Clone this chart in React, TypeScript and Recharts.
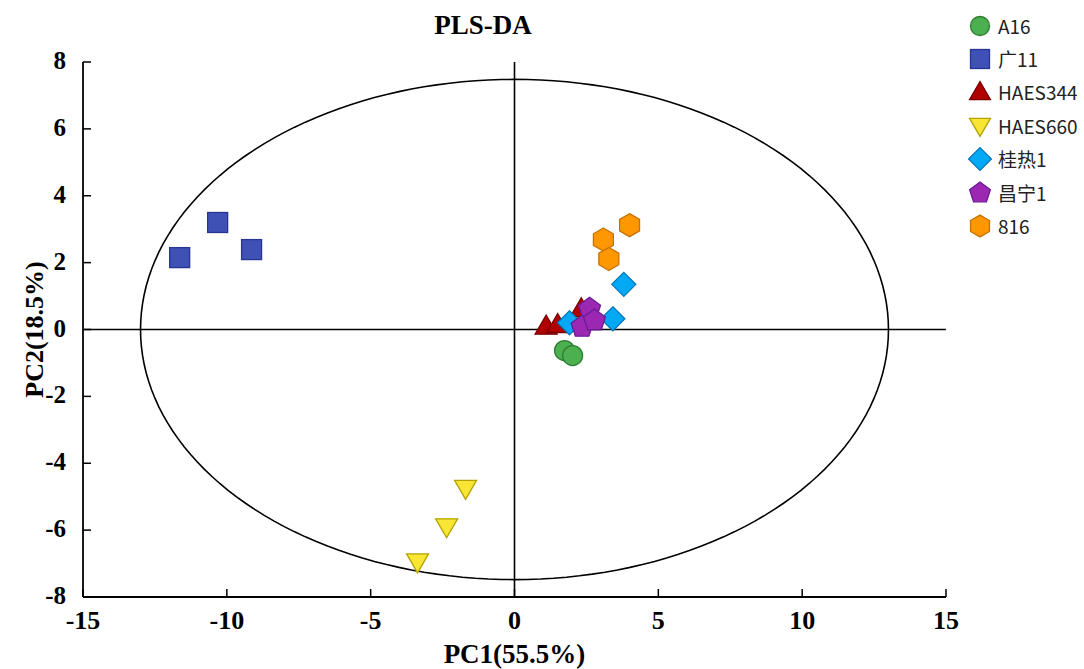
import React from "react";
import {
  ScatterChart,
  Scatter,
  XAxis,
  YAxis,
  ReferenceLine,
} from "recharts";

const groupNames = ["A16", "广11", "HAES344", "HAES660", "桂热1", "昌宁1", "816"];

const a16 = [
  { x: 1.74, y: -0.63 },
  { x: 2.02, y: -0.78 },
];
const guang11 = [
  { x: -11.64, y: 2.15 },
  { x: -10.32, y: 3.2 },
  { x: -9.14, y: 2.39 },
];
const haes344 = [
  { x: 1.1, y: 0.1 },
  { x: 1.5, y: 0.15 },
  { x: 2.32, y: 0.62 },
];
const haes660 = [
  { x: -3.37, y: -6.95 },
  { x: -2.36, y: -5.9 },
  { x: -1.7, y: -4.75 },
];
const guire1 = [
  { x: 1.91, y: 0.2 },
  { x: 3.42, y: 0.32 },
  { x: 3.8, y: 1.35 },
];
const changning1 = [
  { x: 2.61, y: 0.62 },
  { x: 2.35, y: 0.08 },
  { x: 2.78, y: 0.27 },
];
const s816 = [
  { x: 4.0, y: 3.12 },
  { x: 3.09, y: 2.69 },
  { x: 3.28, y: 2.11 },
];

const xTicks = [-15, -10, -5, 0, 5, 10, 15];
const yTicks = [-8, -6, -4, -2, 0, 2, 4, 6, 8];

// confidence ellipse, centre (0,0)
const ellipseA = 13;
const ellipseB = 7.48;
const ellipsePts = Array.from({ length: 181 }, (_, i) => {
  const t = (i / 180) * Math.PI * 2;
  return { x: ellipseA * Math.cos(t), y: ellipseB * Math.sin(t) };
});

const SERIF = "'Liberation Serif', 'Times New Roman', serif";

type Style = { fill: string; stroke: string; kind: string };
const styles: Style[] = [
  { fill: "#4caf50", stroke: "#2e7d32", kind: "circle" },
  { fill: "#3f51b5", stroke: "#283593", kind: "square" },
  { fill: "#b00000", stroke: "#7a0000", kind: "triangle" },
  { fill: "#f9e534", stroke: "#b3a300", kind: "triangleDown" },
  { fill: "#03a9f4", stroke: "#0277bd", kind: "diamond" },
  { fill: "#9c27b0", stroke: "#6a1b9a", kind: "pentagon" },
  { fill: "#ff9800", stroke: "#c67100", kind: "hexagon" },
];

function polygon(cx: number, cy: number, r: number, n: number, rot: number) {
  const pts = [];
  for (let i = 0; i < n; i++) {
    const a = rot + (i * 2 * Math.PI) / n;
    pts.push(`${cx + r * Math.cos(a)},${cy + r * Math.sin(a)}`);
  }
  return pts.join(" ");
}

function Marker({ cx, cy, st, s = 1 }: { cx: number; cy: number; st: Style; s?: number }) {
  const common = { fill: st.fill, stroke: st.stroke, strokeWidth: 1.3 };
  switch (st.kind) {
    case "circle":
      return <circle cx={cx} cy={cy} r={10 * s} {...common} />;
    case "square":
      return <rect x={cx - 10 * s} y={cy - 10 * s} width={20 * s} height={20 * s} {...common} />;
    case "triangle":
      return (
        <polygon
          points={`${cx},${cy - 11 * s} ${cx + 11 * s},${cy + 8 * s} ${cx - 11 * s},${cy + 8 * s}`}
          {...common}
        />
      );
    case "triangleDown":
      return (
        <polygon
          points={`${cx - 11 * s},${cy - 8 * s} ${cx + 11 * s},${cy - 8 * s} ${cx},${cy + 11 * s}`}
          {...common}
        />
      );
    case "diamond":
      return <polygon points={polygon(cx, cy, 12 * s, 4, -Math.PI / 2)} {...common} />;
    case "pentagon":
      return <polygon points={polygon(cx, cy, 11.5 * s, 5, -Math.PI / 2)} {...common} />;
    default:
      return <polygon points={polygon(cx, cy, 11.5 * s, 6, -Math.PI / 2)} {...common} />;
  }
}

const XTick = (props: any) => {
  const { x, y, payload } = props;
  return (
    <g>
      <line x1={x} y1={y} x2={x} y2={y - 8} stroke="#000" strokeWidth={1.5} />
      <text
        x={x}
        y={y + 32}
        textAnchor="middle"
        fontFamily={SERIF}
        fontWeight="bold"
        fontSize={26}
        fill="#000"
      >
        {payload.value}
      </text>
    </g>
  );
};

const YTick = (props: any) => {
  const { x, y, payload } = props;
  return (
    <g>
      <line x1={x} y1={y} x2={x + 8} y2={y} stroke="#000" strokeWidth={1.5} />
      <text
        x={x - 17}
        y={y + 7}
        textAnchor="end"
        fontFamily={SERIF}
        fontWeight="bold"
        fontSize={25}
        fill="#000"
      >
        {payload.value}
      </text>
    </g>
  );
};

const LegendBox = () => (
  <div
    style={{
      position: "absolute",
      left: 967,
      top: 9,
      fontFamily: "'Noto Sans CJK SC', 'Noto Sans', sans-serif",
      fontSize: 19,
    }}
  >
    {groupNames.map((name, i) => (
      <div key={name} style={{ display: "flex", alignItems: "center", height: 33.4 }}>
        <svg width={26} height={26} style={{ marginRight: 5 }}>
          <Marker cx={13} cy={13} st={styles[i]} s={0.95} />
        </svg>
        <span style={{ color: "#222", lineHeight: "26px" }}>{name}</span>
      </div>
    ))}
  </div>
);

const seriesData = [a16, guang11, haes344, haes660, guire1, changning1, s816];

export default function App() {
  return (
    <div style={{ position: "absolute", left: 0, top: 0, width: 1084, height: 669, background: "#fff" }}>
      <div
        style={{
          position: "absolute",
          left: 383,
          width: 200,
          top: 10,
          textAlign: "center",
          fontFamily: SERIF,
          fontWeight: "bold",
          fontSize: 27,
          color: "#000",
        }}
      >
        PLS-DA
      </div>
      <ScatterChart width={1084} height={669} margin={{ top: 62, right: 138, bottom: 0, left: 0 }}>
        <XAxis
          type="number"
          dataKey="x"
          domain={[-15, 15]}
          ticks={xTicks}
          interval={0}
          tickSize={0}
          tickMargin={0}
          tick={<XTick />}
          height={72}
          stroke="#000"
          strokeWidth={1.8}
          allowDataOverflow
          label={{
            content: (p: any) => {
              const vb = p.viewBox;
              return (
                <text
                  x={vb.x + vb.width / 2}
                  y={vb.y + 66}
                  textAnchor="middle"
                  fontFamily={SERIF}
                  fontWeight="bold"
                  fontSize={27}
                  fill="#000"
                >
                  PC1(55.5%)
                </text>
              );
            },
          }}
        />
        <YAxis
          type="number"
          dataKey="y"
          domain={[-8, 8]}
          ticks={yTicks}
          interval={0}
          tickSize={0}
          tickMargin={0}
          tick={<YTick />}
          width={83}
          stroke="#000"
          strokeWidth={1.8}
          allowDataOverflow
          label={{
            content: (p: any) => {
              const vb = p.viewBox;
              const cy = vb.y + vb.height / 2;
              return (
                <text
                  x={34}
                  y={cy}
                  transform={`rotate(-90, 34, ${cy})`}
                  textAnchor="middle"
                  dominantBaseline="central"
                  fontFamily={SERIF}
                  fontWeight="bold"
                  fontSize={26}
                  fill="#000"
                >
                  PC2(18.5%)
                </text>
              );
            },
          }}
        />
        <ReferenceLine x={0} stroke="#000" strokeWidth={1.6} />
        <ReferenceLine y={0} stroke="#000" strokeWidth={1.6} />
        <Scatter
          data={ellipsePts}
          line={{ stroke: "#000", strokeWidth: 1.6 }}
          lineType="joint"
          shape={() => <g />}
          isAnimationActive={false}
          legendType="none"
        />
        {seriesData.map((d, i) => (
          <Scatter
            key={groupNames[i]}
            name={groupNames[i]}
            data={d}
            isAnimationActive={false}
            shape={(p: any) => <Marker cx={p.cx} cy={p.cy} st={styles[i]} />}
          />
        ))}
      </ScatterChart>
      <LegendBox />
    </div>
  );
}
